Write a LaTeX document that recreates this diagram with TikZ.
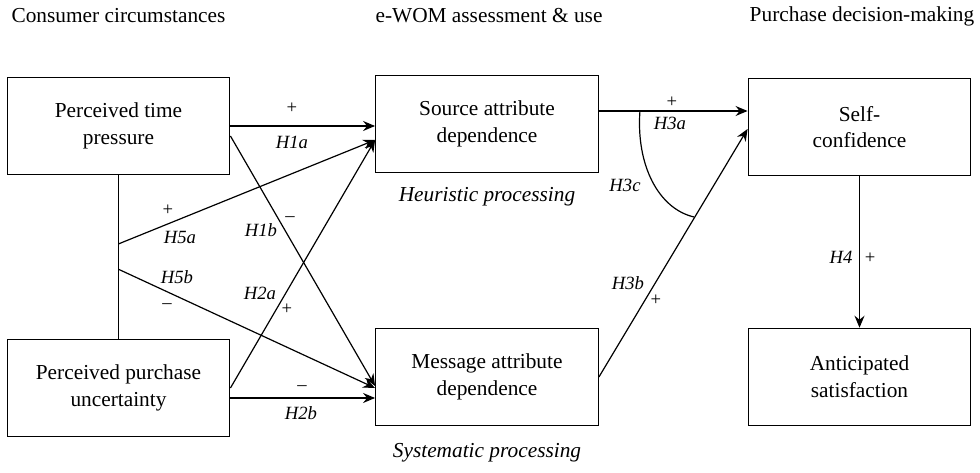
\documentclass[tikz,border=0pt]{standalone}
\usepackage{fontspec}
\setmainfont{Liberation Serif}
\usetikzlibrary{calc, arrows.meta}

\begin{document}
\begin{tikzpicture}[x=0.75pt, y=-0.75pt,
  construct/.style={draw, line width=0.9pt, minimum width=167pt, minimum height=73pt,
                    align=center, inner sep=2pt, font=\fontsize{16}{20}\selectfont},
  heading/.style={font=\fontsize{16}{19}\selectfont},
  mode/.style={font=\fontsize{16}{19}\selectfont\itshape},
  hyp/.style={font=\fontsize{14}{16}\selectfont\itshape, inner sep=1pt},
  sign/.style={font=\fontsize{14}{16}\selectfont, inner sep=1pt},
  link/.style={draw, line width=0.9pt, -{Stealth[length=9pt, width=7.5pt, inset=3pt]}},
]
\useasboundingbox (0,0) rectangle (980,473);

\node[heading] (colA) at (118.5,16) {Consumer circumstances};
\node[heading] (colB) at (489,16) {e-WOM assessment \& use};
\node[heading] (colC) at (862,16) {Purchase decision-making};

\node[construct] (time) at (118.5,126) {Perceived time\\pressure};
\node[construct] (unc) at (118.5,388) {Perceived purchase\\uncertainty};
\node[construct] (src) at (487,124) {Source attribute\\dependence};
\node[construct] (msg) at (487,377) {Message attribute\\dependence};
\node[construct] (conf) at (859.5,127) {Self-\\confidence};
\node[construct] (sat) at (859.5,377) {Anticipated\\satisfaction};

\node[mode] (heur) at (487,197) {Heuristic processing};
\node[mode] (syst) at (487,453) {Systematic processing};

\coordinate (j5a) at ($(time.south)!0.42!(unc.north)$);
\coordinate (j5b) at ($(time.south)!0.575!(unc.north)$);
\coordinate (u2) at ($(unc.east)+(0,10)$);
\coordinate (s3) at ($(src.east)+(0,-13)$);
\coordinate (c3a) at ($(s3)+(41,0)$);
\coordinate (c3b) at ($(msg.east)!0.64!(conf.west)$);

\draw[line width=0.9pt] (time.south) -- (unc.north);
\draw[link] (time.east) -- (time.east -| src.west);
\draw[link] ($(time.east)+(0,10)$) -- ($(msg.west)+(0,9)$);
\draw[link] (j5a) -- ($(src.west)+(0,16)$);
\draw[link] (j5b) -- ($(msg.west)+(0,11)$);
\draw[link] (unc.east) -- ($(src.west)+(0,16)$);
\draw[link] (u2) -- (u2 -| msg.west);
\draw[link] (s3) -- (s3 -| conf.west);
\draw[link] (msg.east) -- ($(conf.west)+(0,2)$);
\draw[line width=0.9pt] (c3a) .. controls ($(c3a)+(-4,55)$) and ($(c3b)+(-35,-8)$) .. (c3b);
\draw[link] (conf.south) -- (sat.north);

\node[sign] (s1a) at (292,108) {+};
\node[hyp] (h1a) at (292,142) {H1a};
\node[sign] (s5a) at (168,210) {+};
\node[hyp] (h5a) at (180,237) {H5a};
\node[hyp] (h1b) at (261,230) {H1b};
\node[sign] (s1b) at (290,219) {\textendash};
\node[hyp] (h5b) at (177,277) {H5b};
\node[sign] (s5b) at (167,306) {\textendash};
\node[hyp] (h2a) at (260,293) {H2a};
\node[sign] (s2a) at (287,309) {+};
\node[sign] (s2b) at (302,388) {\textendash};
\node[hyp] (h2b) at (301,413) {H2b};
\node[sign] (s3a) at (672,102) {+};
\node[hyp] (h3a) at (670,123) {H3a};
\node[hyp] (h3c) at (625,185) {H3c};
\node[hyp] (h3b) at (628,283) {H3b};
\node[sign] (s3b) at (656,300) {+};
\node[hyp] (h4) at (841,257) {H4};
\node[sign] (s4) at (870,258) {+};
\end{tikzpicture}
\end{document}
